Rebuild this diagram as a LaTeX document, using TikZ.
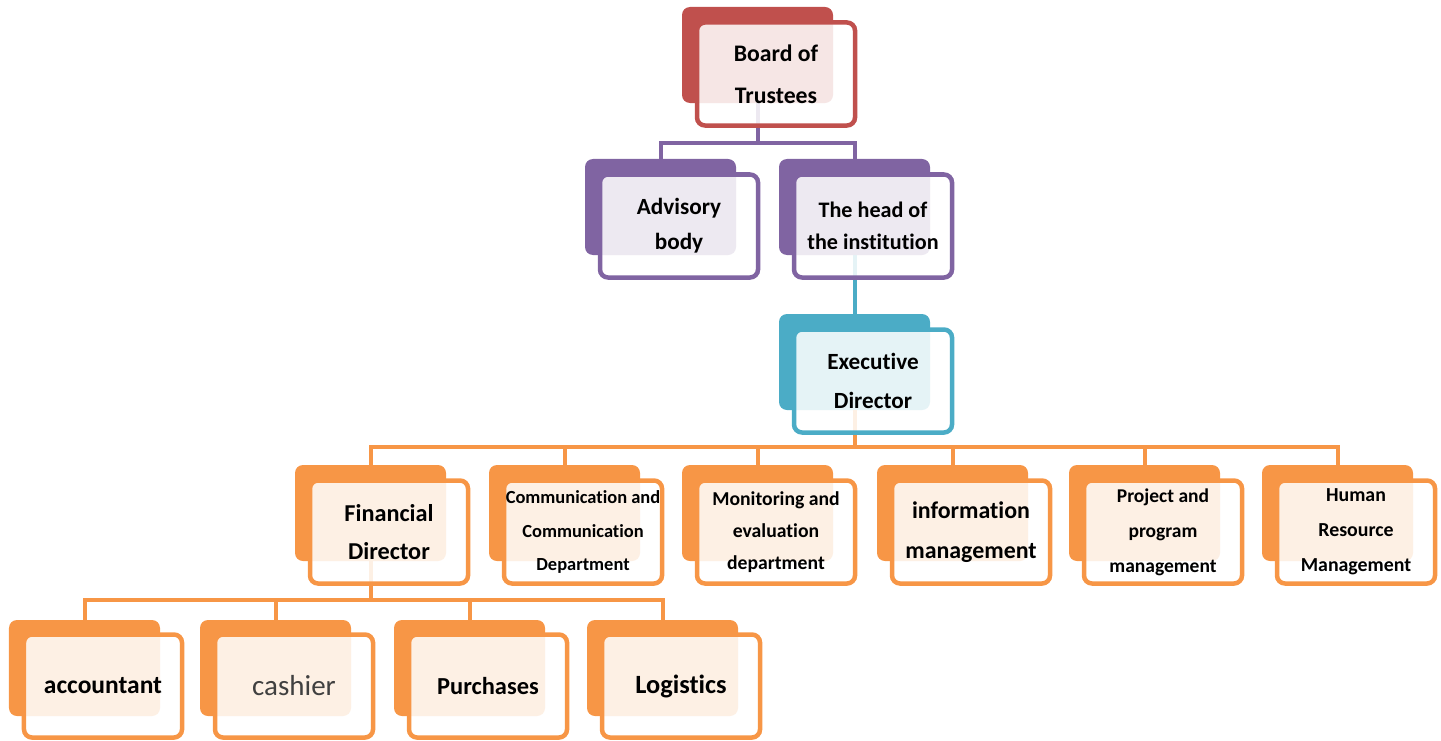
\documentclass[tikz,border=0pt]{standalone}
\usepackage{fontspec}
\setmainfont{Carlito}[Ligatures={NoCommon,NoRare}]
\usepackage{tikz}

\definecolor{trustred}{HTML}{C0504D}
\definecolor{bodypurple}{HTML}{8064A2}
\definecolor{execcyan}{HTML}{4BACC6}
\definecolor{deptorange}{HTML}{F79646}

\tikzset{
  backbox/.style={fill=#1, rounded corners=1.6mm, minimum width=30.2mm, minimum height=19.2mm, inner sep=0pt},
  frontbox/.style={draw=#1, line width=0.9mm, fill=white, fill opacity=0.86, text opacity=1,
    rounded corners=1.6mm, minimum width=31.6mm, minimum height=20.6mm, inner sep=0pt, align=center},
  txt/.style n args={2}{font=\bfseries\fontsize{#1}{#2}\selectfont},
  link/.style={draw=#1, line width=0.8mm},
}

\begin{document}
\begin{tikzpicture}[x=0.2mm, y=-0.2mm]
    \useasboundingbox (0,0) rectangle (1441,740);

    % Back cards
    \node[backbox=trustred] (bt-b) at (757.5,55) {};
    \node[backbox=bodypurple] (adv-b) at (660.5,207) {};
    \node[backbox=bodypurple] (hd-b) at (854.5,207) {};
    \node[backbox=execcyan] (ex-b) at (854.5,362) {};
    \node[backbox=deptorange] (fin-b) at (370.5,513) {};
    \node[backbox=deptorange] (com-b) at (564.5,513) {};
    \node[backbox=deptorange] (mon-b) at (757.5,513) {};
    \node[backbox=deptorange] (inf-b) at (952.5,513) {};
    \node[backbox=deptorange] (prj-b) at (1144.5,513) {};
    \node[backbox=deptorange] (hrm-b) at (1337.5,513) {};
    \node[backbox=deptorange] (acc-b) at (84.5,668) {};
    \node[backbox=deptorange] (csh-b) at (275.5,668) {};
    \node[backbox=deptorange] (pur-b) at (469.5,668) {};
    \node[backbox=deptorange] (log-b) at (662.5,668) {};

    % Links
    \draw[link=bodypurple] (bt-b.south) -- ++(0,40) -| (adv-b.north);
    \draw[link=bodypurple] (bt-b.south) -- ++(0,40) -| (hd-b.north);
    \draw[link=execcyan] (hd-b.south) -- (ex-b.north);
    \foreach \d in {fin,com,mon,inf,prj,hrm}
        \draw[link=deptorange] (ex-b.south) -- ++(0,37) -| (\d-b.north);
    \foreach \d in {acc,csh,pur,log}
        \draw[link=deptorange] (fin-b.south) -- ++(0,39) -| (\d-b.north);

    % Front cards
    \node[frontbox=trustred, txt={13.5}{24}] (bt) at (776,74) {Board of\\Trustees};
    \node[frontbox=bodypurple, txt={13.2}{20}] (adv) at (679,226) {Advisory\\body};
    \node[frontbox=bodypurple, txt={12.6}{18}] (hd) at (873,226) {The head of\\the institution};
    \node[frontbox=execcyan, txt={13.2}{22}] (ex) at (873,381) {Executive\\Director};
    \node[frontbox=deptorange, txt={13.8}{22}] (fin) at (389,532) {Financial\\Director};
    \node[frontbox=deptorange, txt={10.5}{19}] (com) at (583,532) {Communication and\\Communication\\Department};
    \node[frontbox=deptorange, txt={11.2}{18.4}] (mon) at (776,532) {Monitoring and\\evaluation\\department};
    \node[frontbox=deptorange, txt={13.6}{23}] (inf) at (971,532) {information\\management};
    \node[frontbox=deptorange, txt={11.1}{20}] (prj) at (1163,532) {Project and\\program\\management};
    \node[frontbox=deptorange, txt={11.3}{20}] (hrm) at (1356,532) {Human\\Resource\\Management};
    \node[frontbox=deptorange, txt={14.5}{18}] (acc) at (103,686) {accountant};
    \node[frontbox=deptorange, font=\fontsize{16.5}{20}\selectfont, text=black!75] (csh) at (294,686) {cashier};
    \node[frontbox=deptorange, txt={13.9}{18}] (pur) at (488,686) {Purchases};
    \node[frontbox=deptorange, txt={15}{18}] (log) at (681,686) {Logistics};

\end{tikzpicture}
\end{document}
